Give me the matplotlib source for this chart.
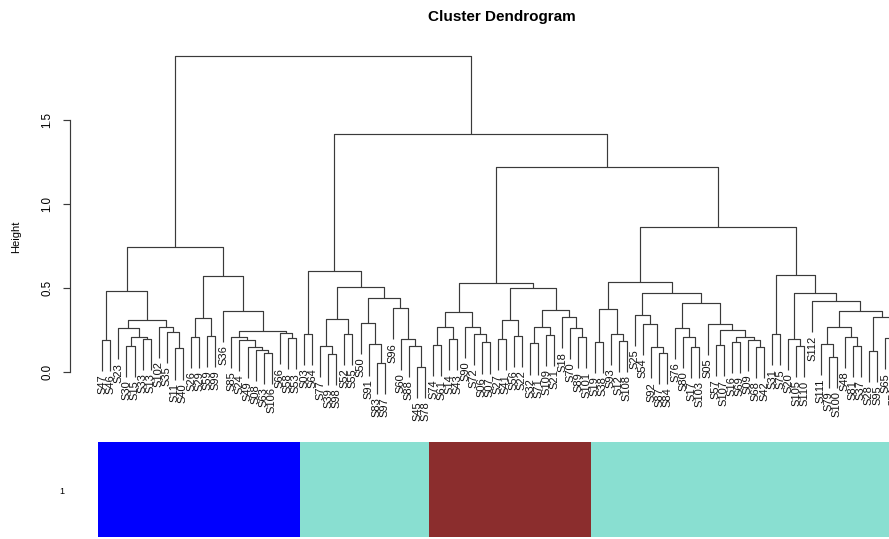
import matplotlib
matplotlib.use('Agg')
import matplotlib.pyplot as plt
from matplotlib.patches import Rectangle

plt.rcParams['font.family'] = ['Liberation Sans', 'DejaVu Sans']

# ---------------- data ----------------
leaf_labels = [
    "S47", "S46", "S23", "S30", "S15", "S33", "S13", "S102", "S35", "S11", "S40",
    "S26", "S29", "S59", "S99", "S36", "S85", "S24", "S49", "S08", "S63", "S106", "S66", "S58", "S53",
    "S03", "S64", "S77", "S39", "S98", "S52", "S55", "S50", "S91", "S83", "S97", "S96", "S60", "S88", "S45", "S78",
    "S74", "S61", "S14", "S43", "S90", "S72", "S06", "S07", "S27", "S41", "S56", "S22", "S32", "S71", "S109",
    "S21", "S18", "S70", "S89", "S101",
    "S19", "S38", "S93", "S12", "S108", "S25", "S54", "S92", "S87", "S84", "S76", "S80", "S17", "S103", "S05",
    "S57", "S107", "S16", "S69", "S09", "S68", "S42",
    "S31", "S75", "S20", "S105", "S110", "S112", "S111", "S79", "S100", "S48", "S81", "S37", "S28", "S95",
    "S65", "S51", "S02",
]

# hclust-style merge matrix: negative = leaf (by order), positive = earlier merge (1-based)
merge_a = [
    -1, -4, -6, 2, -3, -10, -9, -8, 5, 1, -12, -14, 11, -21, -20, -19, -18, -17, -24, -23, 18, -16, 13, 10,
    -26, -29, -28, -31, 27, -35, -34, -33, -40, -39, -38, -37, 32, 29, 25,
    -42, -44, 40, -48, -47, -46, 42, -50, -52, 47, -54, -56, 50, -60, -59, -58, 52, 49, 46,
    -62, -65, -64, 59, -70, -69, -68, -67, -74, -73, -72, -77, -79, -82, -81, 71, 70, -76, 69, 66, 62,
    -84, -87, -86, -91, -90, -94, -93, 84, -96, -99, -98, 88, 87, -89, 82, 80, 79,
    58, 39, 24,
]
merge_b = [
    -2, -5, -7, 3, 4, -11, 6, 7, 8, 9, -13, -15, 12, -22, 14, 15, 16, 17, -25, 19, 20, 21, 22, 23,
    -27, -30, 26, -32, 28, -36, 30, 31, -41, 33, 34, 35, 36, 37, 38,
    -43, -45, 41, -49, 43, 44, 45, -51, -53, 48, -55, -57, 51, -61, 53, 54, 55, 56, 57,
    -63, -66, 60, 61, -71, 63, 64, 65, -75, 67, 68, -78, -80, -83, 72, 73, 74, 75, 76, 77, 78,
    -85, -88, 81, -92, 83, -95, 85, 86, -97, -100, 89, 90, 91, 92, 93, 94, 95,
    96, 97, 98,
]
merge_h = [
    0.19, 0.155, 0.196, 0.21, 0.26, 0.14, 0.24, 0.27, 0.31, 0.484, 0.21, 0.215, 0.32, 0.115, 0.13, 0.15,
    0.19, 0.21, 0.20, 0.23, 0.246, 0.363, 0.573, 0.746,
    0.226, 0.107, 0.155, 0.226, 0.313, 0.055, 0.164, 0.293, 0.03, 0.155, 0.196, 0.379, 0.438, 0.508, 0.603,
    0.16, 0.194, 0.266, 0.176, 0.226, 0.27, 0.359, 0.194, 0.214, 0.31, 0.17, 0.22, 0.27, 0.206, 0.26,
    0.325, 0.369, 0.498, 0.528,
    0.18, 0.185, 0.226, 0.375, 0.115, 0.147, 0.284, 0.34, 0.15, 0.21, 0.264, 0.16, 0.18, 0.15, 0.19,
    0.21, 0.25, 0.284, 0.409, 0.472, 0.534,
    0.224, 0.155, 0.196, 0.09, 0.165, 0.155, 0.21, 0.27, 0.127, 0.12, 0.20, 0.325, 0.363, 0.423, 0.468,
    0.577, 0.863,
    1.22, 1.417, 1.88,
]

cluster_sizes = [25, 16, 20, 39]
cluster_colors = ['#0000FF', '#89DFD1', '#8B2D2D', '#89DFD1']
y_ticks = [0.0, 0.5, 1.0, 1.5]
y_tick_labels = ['0.0', '0.5', '1.0', '1.5']

# ---------------- figure ----------------
W, H = 889, 539
fig = plt.figure(figsize=(W / 100, H / 100), dpi=100)

n = len(leaf_labels)
ax_left_px, ax_w_px = 70.3, 862.9
ax_top_px, ax_bot_px = 40, 430
ax = fig.add_axes([ax_left_px / W, 1 - ax_bot_px / H, ax_w_px / W, (ax_bot_px - ax_top_px) / H])
xlim = (1 - 0.04 * (n - 1), n + 0.04 * (n - 1))
ax.set_xlim(*xlim)
ax.set_ylim((372 - ax_bot_px) / 168, (372 - ax_top_px) / 168)

hang = 0.1 * (max(merge_h) - min(merge_h))
line_kw = dict(color='#3a3a3a', lw=0.85, solid_capstyle='butt', clip_on=True)

node_x = {}
for k, (a, b, h) in enumerate(zip(merge_a, merge_b, merge_h), start=1):
    ends = []
    for ref in (a, b):
        if ref < 0:
            x = -ref
            y = h - hang
            ax.annotate(leaf_labels[x - 1], (x, y), xytext=(0, -2.5), textcoords='offset points',
                        rotation=90, ha='center', va='top', fontsize=8, color='#111111',
                        annotation_clip=False)
        else:
            x = node_x[ref]
            y = merge_h[ref - 1]
        ends.append((x, y))
    (xa, ya), (xb, yb) = ends
    ax.plot([xa, xa, xb, xb], [ya, h, h, yb], **line_kw)
    node_x[k] = (xa + xb) / 2

for s in ['top', 'right', 'bottom']:
    ax.spines[s].set_visible(False)
ax.spines['left'].set_bounds(0, 1.5)
ax.spines['left'].set_color('#3a3a3a')
ax.spines['left'].set_linewidth(0.85)
ax.set_xticks([])
ax.set_yticks(y_ticks)
ax.set_yticklabels(y_tick_labels, rotation=90, va='center', fontsize=8.3)
ax.tick_params(axis='y', length=5, width=0.85, color='#3a3a3a', pad=7)

fig.text(16 / W, 1 - 237 / H, 'Height', rotation=90, ha='center', va='center', fontsize=8)
fig.text((ax_left_px + ax_w_px / 2) / W, 1 - 17 / H, 'Cluster Dendrogram',
         ha='center', va='center', fontsize=11, fontweight='bold')

# colour bar under the tree
cb_top, cb_bot = 442, 537
ax2 = fig.add_axes([ax_left_px / W, 1 - cb_bot / H, ax_w_px / W, (cb_bot - cb_top) / H])
ax2.set_xlim(*xlim)
ax2.set_ylim(0, 1)
start = 1
for size, col in zip(cluster_sizes, cluster_colors):
    ax2.add_patch(Rectangle((start - 0.5, 0), size, 1, facecolor=col, edgecolor='none'))
    start += size
ax2.axis('off')
fig.text(62 / W, 1 - 492 / H, '1', ha='center', va='center', fontsize=6.5)

fig.savefig('out.png', dpi=100)
